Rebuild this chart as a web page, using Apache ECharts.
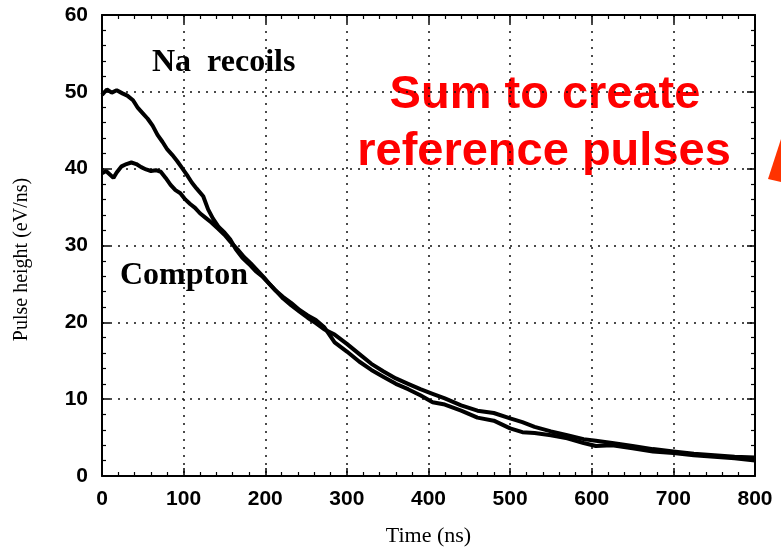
<!DOCTYPE html>
<html>
<head>
<meta charset="utf-8">
<script src="https://cdn.jsdelivr.net/npm/echarts@6/dist/echarts.min.js"></script>
<style>
html,body{margin:0;padding:0;background:#fff;}
#chart{width:781px;height:547px;}
</style>
</head>
<body>
<div id="chart"></div>
<script>
// Data
var naTime = [0,6,12,18,25,31,38,44,50,56,62,68,74,80,86,92,98,104,110,116,124,130,136,143,150,157,164,172,180,188,196,205,213,222,232,242,252,262,272,285,300,315,330,345,360,375,390,405,420,440,460,480,500,515,530,550,570,590,605,625,650,675,700,725,750,775,800];
var naValue = [49.6,50.3,49.9,50.2,49.8,49.5,48.9,47.9,47.2,46.5,45.6,44.4,43.5,42.5,41.8,41.0,40.1,39.2,38.2,37.4,36.4,34.7,33.5,32.4,31.7,30.8,29.5,28.4,27.6,26.7,26.0,25.0,24.1,23.3,22.5,21.6,20.9,20.3,19.4,17.4,16.2,14.9,13.8,12.9,12.0,11.3,10.5,9.6,9.3,8.5,7.6,7.2,6.2,5.7,5.6,5.3,4.9,4.3,3.9,4.0,3.6,3.2,3.0,2.7,2.5,2.3,2.0];
var comptonTime = [0,5,10,14,18,24,30,36,42,48,54,60,66,72,78,84,90,96,102,108,114,120,127,134,142,150,158,166,174,182,190,198,206,214,222,232,242,252,262,272,285,300,315,330,345,360,375,390,405,420,440,460,480,500,515,530,550,570,590,605,625,650,675,700,725,750,775,800];
var comptonValue = [39.4,39.7,39.2,38.8,39.5,40.3,40.6,40.8,40.6,40.2,39.9,39.7,39.8,39.6,38.8,37.9,37.2,36.8,36.0,35.4,34.9,34.2,33.6,33.0,32.2,31.4,30.4,29.5,28.5,27.7,26.8,25.9,24.9,24.0,23.1,22.2,21.4,20.6,19.9,19.1,18.4,17.2,15.9,14.6,13.6,12.7,12.0,11.3,10.7,10.1,9.2,8.5,8.2,7.5,7.0,6.4,5.8,5.3,4.8,4.6,4.3,3.9,3.5,3.2,2.9,2.7,2.5,2.4];
var xTicks = {min:0, max:800, interval:100};
var yTicks = {min:0, max:60, interval:10};
var xName = 'Time (ns)';
var yName = 'Pulse height (eV/ns)';

function pairs(t, v){ return t.map(function(x,i){ return [x, v[i]]; }); }

var chart = echarts.init(document.getElementById('chart'));
var labelFont = {color:'#000', fontFamily:'Liberation Sans, Arial, sans-serif', fontWeight:'bold', fontSize:21};
var grid = {left:102, right:26, top:15, bottom:71, containLabel:false, outerBoundsMode:'none'};
var dotted = {show:true, lineStyle:{color:'#111', width:1.5, type:[2,6]}};

function baseAxis(extra){
  return Object.assign({
    type:'value',
    axisLine:{show:true, onZero:false, lineStyle:{color:'#000', width:2}},
    axisTick:{show:true, inside:true, length:8, lineStyle:{color:'#000', width:1.5}},
    minorTick:{show:true, splitNumber:5, length:4, lineStyle:{color:'#000', width:1.2}}
  }, extra);
}

var option = {
  animation:false,
  backgroundColor:'#fff',
  grid:grid,
  xAxis:[
    baseAxis({min:xTicks.min, max:xTicks.max, interval:xTicks.interval, position:'bottom',
      name:xName, nameLocation:'middle', nameGap:49,
      nameTextStyle:{color:'#000', fontFamily:'Liberation Serif, Times New Roman, serif', fontSize:22},
      axisLabel:Object.assign({margin:13}, labelFont),
      splitLine:dotted}),
    baseAxis({min:xTicks.min, max:xTicks.max, interval:xTicks.interval, position:'top',
      axisLabel:{show:false}, splitLine:{show:false}})
  ],
  yAxis:[
    baseAxis({min:yTicks.min, max:yTicks.max, interval:yTicks.interval, position:'left',
      name:yName, nameLocation:'middle', nameGap:70,
      nameTextStyle:{color:'#000', fontFamily:'Liberation Serif, Times New Roman, serif', fontSize:20, padding:[0,0,0,-28]},
      axisLabel:Object.assign({margin:14}, labelFont),
      splitLine:dotted}),
    baseAxis({min:yTicks.min, max:yTicks.max, interval:yTicks.interval, position:'right',
      axisLabel:{show:false}, splitLine:{show:false}})
  ],
  series:[
    {name:'Na recoils', type:'line', data:pairs(naTime, naValue), showSymbol:false, symbol:'none',
      lineStyle:{color:'#000', width:4}},
    {name:'Compton', type:'line', data:pairs(comptonTime, comptonValue), showSymbol:false, symbol:'none',
      lineStyle:{color:'#000', width:4}}
  ],
  graphic:[
    {type:'text', left:152, top:47, style:{text:'Na  recoils', fill:'#000', font:'bold 32px "Liberation Serif", "Times New Roman", serif'}},
    {type:'text', left:120, top:260, style:{text:'Compton', fill:'#000', font:'bold 32px "Liberation Serif", "Times New Roman", serif'}},
    {type:'text', x:545, y:95, style:{text:'Sum to create', fill:'#ff0000', align:'center', verticalAlign:'middle', font:'bold 47px "Liberation Sans", Arial, sans-serif'}},
    {type:'text', x:544, y:152, style:{text:'reference pulses', fill:'#ff0000', align:'center', verticalAlign:'middle', font:'bold 47px "Liberation Sans", Arial, sans-serif'}},
    {type:'polygon', shape:{points:[[768,179],[781,139],[781,182]]}, style:{fill:'#ff3300'}}
  ]
};
chart.setOption(option);
</script>
</body>
</html>
